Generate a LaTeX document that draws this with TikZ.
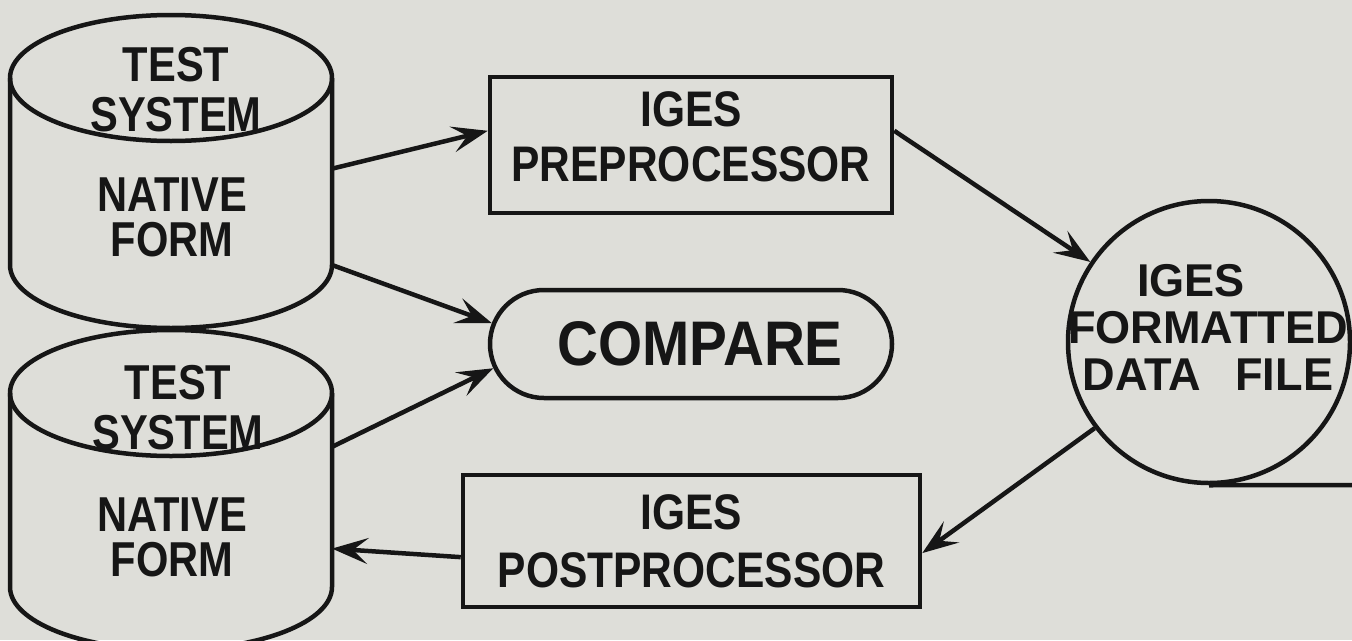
\documentclass[tikz,border=0pt]{standalone}
\usepackage{fontspec}
\newfontfamily\plotfont{Liberation Sans}[FakeStretch=0.85]
\newfontfamily\plotcmp{Liberation Sans}[FakeStretch=0.9]
\newfontfamily\plotwide{Liberation Sans}[FakeStretch=0.98]
\usetikzlibrary{arrows.meta,shapes.misc,calc}
\definecolor{paper}{RGB}{222,222,217}
\definecolor{ink}{RGB}{22,22,22}

\begin{document}
\begin{tikzpicture}[x=1pt,y=1pt,
  outline/.style={draw=ink,line width=4.5pt,line join=round},
  body/.style={inner sep=0pt,outer sep=0pt,minimum width=322pt},
  lbl/.style={inner sep=0pt,align=center,text=ink},
  cylfont/.style={font=\plotfont\bfseries\fontsize{49}{#1}\selectfont},
  procbox/.style={draw=ink,line width=4.5pt,inner sep=0pt,align=center,text=ink,
    font=\plotfont\bfseries\fontsize{50}{#1}\selectfont},
  arr/.style={draw=ink,line width=4.5pt,
    -{Stealth[length=36pt,width=26pt,inset=15pt]}}
]
\useasboundingbox (0,0) rectangle (1352,-640);
\fill[paper] (0,0) rectangle (1352,-640);
\clip (0,0) rectangle (1352,-640);

% upper storage cylinder
\node[body,minimum height=187pt] (sysA) at (171,-171.5) {};
\draw[outline] (171,-78) ellipse [x radius=161pt, y radius=63pt];
\draw[outline] (sysA.north west) -- (sysA.south west)
  arc[start angle=180,end angle=360,x radius=161pt,y radius=63pt]
  -- (sysA.north east);
\node[lbl,cylfont=50] (labA1) at (176,-89.5) {TEST\\SYSTEM};
\node[lbl,cylfont=45] (labA2) at (172,-217.5) {NATIVE\\FORM};

% lower storage cylinder
\node[body,minimum height=194pt] (sysB) at (171,-490) {};
\draw[outline] (171,-393) ellipse [x radius=161pt, y radius=63pt];
\draw[outline] (sysB.north west) -- (sysB.south west)
  arc[start angle=180,end angle=360,x radius=161pt,y radius=63pt]
  -- (sysB.north east);
\node[lbl,cylfont=50] (labB1) at (178,-407.5) {TEST\\SYSTEM};
\node[lbl,cylfont=45] (labB2) at (172,-537) {NATIVE\\FORM};

% processors
\node[procbox=55,minimum width=402pt,minimum height=136pt,text depth=16pt] (pre)
  at (691,-145) {IGES\\PREPROCESSOR};
\node[procbox=58,minimum width=457pt,minimum height=132pt] (post) at (691.5,-541)
  {IGES\\POSTPROCESSOR};

% comparison step
\node[draw=ink,line width=4.5pt,rounded rectangle,minimum width=402pt,
  minimum height=108pt,inner sep=0pt,text=ink,
  font=\plotcmp\bfseries\fontsize{63}{70}\selectfont] (cmp) at (691,-344)
  {\hspace*{18pt}COMPARE};

% exchange file
\node[draw=ink,line width=4.5pt,circle,minimum size=282pt,inner sep=0pt] (file)
  at (1209,-342) {};
\node[lbl,font=\plotwide\bfseries\fontsize{46}{47}\selectfont] (fileL) at (1208,-327)
  {IGES\hspace*{34pt}\\FORMATTED\\DATA\hspace{34pt}FILE};
\coordinate (rim) at (1360,-485);
\draw[outline] (file.south) -- (rim);

% data flow
\draw[arr] (sysA.1) -- (pre.176);
\draw[arr] (sysA.south east) -- (cmp.174);
\draw[arr] (sysB.15) -- (cmp.187);
\draw[arr] (pre.4) -- (file.146);
\draw[arr] (file.217) -- (post.357);
\draw[arr] (post.184) -- (sysB.340.5);
\end{tikzpicture}
\end{document}
